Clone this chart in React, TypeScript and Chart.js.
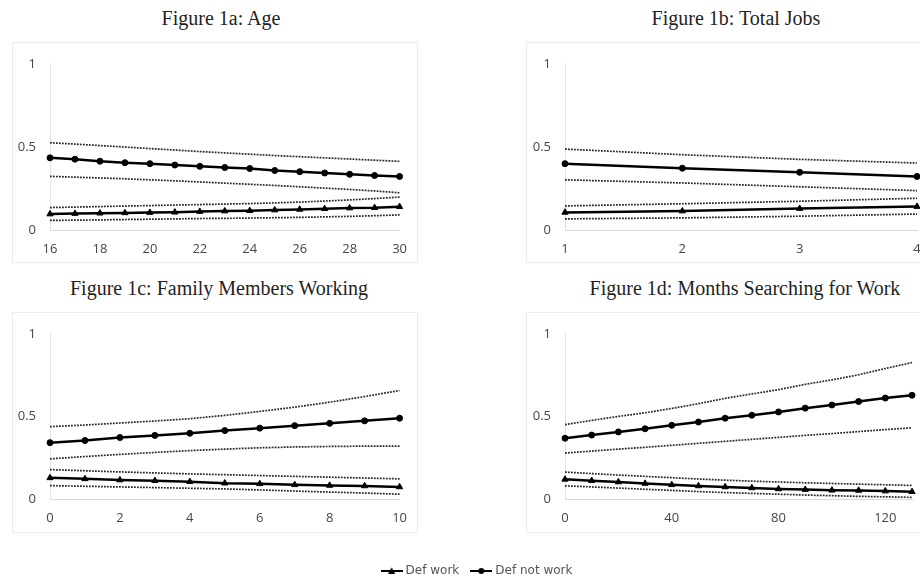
import React, { useEffect, useRef } from 'react';
import { Chart, registerables } from 'chart.js';
Chart.register(...registerables);

// ---------- data ----------
const ageLabels = ['16', '17', '18', '19', '20', '21', '22', '23', '24', '25', '26', '27', '28', '29', '30'];
const ageWork = [0.096, 0.099, 0.101, 0.103, 0.105, 0.107, 0.111, 0.114, 0.116, 0.120, 0.124, 0.128, 0.132, 0.134, 0.140];
const ageWorkHi = [0.135, 0.138, 0.141, 0.144, 0.147, 0.150, 0.153, 0.156, 0.159, 0.163, 0.168, 0.174, 0.181, 0.189, 0.198];
const ageWorkLo = [0.058, 0.059, 0.061, 0.063, 0.065, 0.067, 0.069, 0.070, 0.072, 0.074, 0.076, 0.079, 0.082, 0.086, 0.091];
const ageNot = [0.434, 0.426, 0.414, 0.405, 0.399, 0.391, 0.383, 0.376, 0.370, 0.358, 0.351, 0.343, 0.335, 0.328, 0.322];
const ageNotHi = [0.525, 0.517, 0.508, 0.499, 0.490, 0.481, 0.472, 0.464, 0.456, 0.448, 0.441, 0.434, 0.427, 0.420, 0.413];
const ageNotLo = [0.323, 0.318, 0.313, 0.308, 0.302, 0.296, 0.289, 0.282, 0.275, 0.268, 0.260, 0.252, 0.244, 0.235, 0.224];

const jobsLabels = ['1', '2', '3', '4'];
const jobsWork = [0.106, 0.114, 0.129, 0.141];
const jobsWorkHi = [0.145, 0.158, 0.173, 0.191];
const jobsWorkLo = [0.067, 0.073, 0.083, 0.096];
const jobsNot = [0.399, 0.372, 0.347, 0.322];
const jobsNotHi = [0.487, 0.453, 0.425, 0.403];
const jobsNotLo = [0.302, 0.283, 0.260, 0.237];

const famLabels = ['0', '1', '2', '3', '4', '5', '6', '7', '8', '9', '10'];
const famWork = [0.128, 0.122, 0.115, 0.111, 0.105, 0.096, 0.092, 0.086, 0.082, 0.079, 0.073];
const famWorkHi = [0.178, 0.171, 0.164, 0.158, 0.152, 0.147, 0.142, 0.137, 0.132, 0.127, 0.122];
const famWorkLo = [0.081, 0.077, 0.073, 0.069, 0.065, 0.061, 0.055, 0.048, 0.042, 0.036, 0.029];
const famNot = [0.341, 0.354, 0.372, 0.385, 0.398, 0.414, 0.429, 0.444, 0.458, 0.473, 0.489];
const famNotHi = [0.438, 0.448, 0.460, 0.472, 0.486, 0.506, 0.530, 0.556, 0.586, 0.620, 0.657];
const famNotLo = [0.243, 0.257, 0.270, 0.282, 0.293, 0.302, 0.310, 0.315, 0.318, 0.320, 0.320];

const monLabels = ['0', '10', '20', '30', '40', '50', '60', '70', '80', '90', '100', '110', '120', '130'];
const monWork = [0.119, 0.111, 0.103, 0.094, 0.086, 0.079, 0.073, 0.067, 0.061, 0.057, 0.053, 0.052, 0.048, 0.044];
const monWorkHi = [0.163, 0.154, 0.145, 0.137, 0.129, 0.121, 0.114, 0.108, 0.103, 0.098, 0.094, 0.090, 0.086, 0.082];
const monWorkLo = [0.080, 0.073, 0.066, 0.059, 0.052, 0.045, 0.039, 0.034, 0.029, 0.024, 0.020, 0.016, 0.013, 0.010];
const monNot = [0.368, 0.387, 0.406, 0.425, 0.446, 0.466, 0.489, 0.507, 0.527, 0.550, 0.569, 0.590, 0.611, 0.628];
const monNotHi = [0.450, 0.476, 0.500, 0.522, 0.548, 0.577, 0.609, 0.636, 0.662, 0.694, 0.721, 0.752, 0.790, 0.826];
const monNotLo = [0.278, 0.290, 0.302, 0.313, 0.325, 0.337, 0.349, 0.361, 0.373, 0.385, 0.396, 0.408, 0.420, 0.431];

const yTicks = [0, 0.5, 1];
const yTickLabels = ['0', '0.5', '1'];
const seriesNames = ['Def work', 'Def not work'];

// ---------- components ----------
const TICK_FONT = { family: 'Open Sans', size: 13 };
const TICK_COLOR = '#454545';

type PanelProps = {
  labels: string[];
  step: number;
  work: number[]; workHi: number[]; workLo: number[];
  not: number[]; notHi: number[]; notLo: number[];
  left: number; top: number; yW: number; padR: number; padT: number;
};

const W = 406;
const H = 221;

function ciSet(data: number[]) {
  return {
    data,
    borderColor: '#262626',
    borderWidth: 1.7,
    borderDash: [1.8, 1.2],
    pointRadius: 0,
    pointHoverRadius: 0,
    fill: false,
    tension: 0,
    clip: false as const,
  };
}

function Panel(p: PanelProps) {
  const ref = useRef<HTMLCanvasElement>(null);
  useEffect(() => {
    const chart = new Chart(ref.current!, {
      type: 'line',
      data: {
        labels: p.labels,
        datasets: [
          ciSet(p.notHi),
          ciSet(p.notLo),
          ciSet(p.workHi),
          ciSet(p.workLo),
          {
            label: seriesNames[0],
            data: p.work,
            borderColor: '#000000',
            backgroundColor: '#000000',
            borderWidth: 2.5,
            pointStyle: 'triangle',
            pointRadius: 3.6,
            pointBorderWidth: 1,
            tension: 0,
            clip: false as const,
          },
          {
            label: seriesNames[1],
            data: p.not,
            borderColor: '#000000',
            backgroundColor: '#000000',
            borderWidth: 2.5,
            pointStyle: 'circle',
            pointRadius: 3,
            pointBorderWidth: 1,
            tension: 0,
            clip: false as const,
          },
        ] as any,
      },
      options: {
        animation: false,
        responsive: false,
        maintainAspectRatio: false,
        events: [],
        layout: { padding: { left: 0, right: p.padR, top: p.padT, bottom: 0 } },
        plugins: { legend: { display: false }, tooltip: { enabled: false }, title: { display: false } },
        scales: {
          x: {
            type: 'category',
            offset: false,
            grid: { display: false, drawTicks: false },
            border: { display: true, color: '#d9d9d9', width: 1 },
            ticks: {
              autoSkip: false,
              maxRotation: 0,
              minRotation: 0,
              padding: 11,
              color: TICK_COLOR,
              font: TICK_FONT,
              callback: (_v: any, i: number) => (i % p.step === 0 ? p.labels[i] : ''),
            },
            afterFit: (s: any) => { s.height = H - p.padT - 173; },
          },
          y: {
            min: yTicks[0],
            max: yTicks[yTicks.length - 1],
            grid: { display: false, drawTicks: false },
            border: { display: true, color: '#e3e3e3', width: 1 },
            afterBuildTicks: (s: any) => { s.ticks = yTicks.map((v) => ({ value: v })); },
            ticks: {
              padding: 14,
              color: TICK_COLOR,
              font: TICK_FONT,
              callback: (v: any) => yTickLabels[yTicks.indexOf(Number(v))] ?? String(v),
            },
            afterFit: (s: any) => { s.width = p.yW; },
          },
        },
      } as any,
    });
    return () => chart.destroy();
  }, []);
  return (
    <>
      <canvas
        ref={ref}
        width={W}
        height={H}
        style={{ position: 'absolute', left: p.left, top: p.top, width: W, height: H }}
      />
      <div
        style={{
          position: 'absolute', left: p.left, top: p.top, width: W, height: H,
          border: '1px solid #ececec', boxSizing: 'border-box', pointerEvents: 'none',
        }}
      />
    </>
  );
}

function makeMarker(kind: 'triangle' | 'circle') {
  const c = document.createElement('canvas');
  c.width = 22;
  c.height = 10;
  const ctx = c.getContext('2d')!;
  ctx.strokeStyle = '#000';
  ctx.lineWidth = 2;
  ctx.beginPath();
  ctx.moveTo(0, 5);
  ctx.lineTo(22, 5);
  ctx.stroke();
  ctx.fillStyle = '#000';
  ctx.beginPath();
  if (kind === 'triangle') {
    ctx.moveTo(11, 1.2);
    ctx.lineTo(14.6, 8);
    ctx.lineTo(7.4, 8);
    ctx.closePath();
  } else {
    ctx.arc(11, 5, 3, 0, Math.PI * 2);
  }
  ctx.fill();
  return c;
}

const LEG_H = 80;

function Legend() {
  const ref = useRef<HTMLCanvasElement>(null);
  useEffect(() => {
    const markers = [makeMarker('triangle'), makeMarker('circle')];
    const chart = new Chart(ref.current!, {
      type: 'line',
      data: {
        labels: [],
        datasets: seriesNames.map((n) => ({ label: n, data: [] as number[], borderColor: '#000' })),
      },
      options: {
        animation: false,
        responsive: false,
        maintainAspectRatio: false,
        events: [],
        layout: { padding: { left: 36, right: 0, top: 0, bottom: 0 } },
        scales: { x: { display: false }, y: { display: false } },
        plugins: {
          tooltip: { enabled: false },
          legend: {
            display: true,
            position: 'top',
            maxHeight: 60,
            labels: {
              usePointStyle: true,
              pointStyleWidth: 16,
              padding: 14,
              color: '#555555',
              font: { family: 'DejaVu Sans', size: 12 },
              generateLabels: (ch: any) =>
                ch.data.datasets.map((d: any, i: number) => ({
                  text: d.label,
                  pointStyle: markers[i],
                  fillStyle: '#000',
                  strokeStyle: '#000',
                  lineWidth: 0,
                  hidden: false,
                  datasetIndex: i,
                  fontColor: '#555555',
                })),
            },
          },
        },
      } as any,
    });
    return () => chart.destroy();
  }, []);
  return (
    <canvas
      ref={ref}
      width={920}
      height={LEG_H}
      style={{ position: 'absolute', left: 0, top: 551, width: 920, height: LEG_H }}
    />
  );
}

function Title({ text, cx, top }: { text: string; cx: number; top: number }) {
  return (
    <div
      style={{
        position: 'absolute', left: cx - 250, top, width: 500, textAlign: 'center',
        fontFamily: '"Liberation Serif", "Times New Roman", serif', fontSize: 20,
        lineHeight: '24px', color: '#1f1f1f', whiteSpace: 'nowrap',
      }}
    >
      {text}
    </div>
  );
}

export default function App() {
  return (
    <div
      style={{
        position: 'absolute', left: 0, top: 0, width: 920, height: 583,
        overflow: 'hidden', background: '#ffffff',
      }}
    >
      <Title text="Figure 1a: Age" cx={221} top={6} />
      <Title text="Figure 1b: Total Jobs" cx={736} top={6} />
      <Title text="Figure 1c: Family Members Working" cx={219} top={276} />
      <Title text="Figure 1d: Months Searching for Work" cx={745} top={276} />
      <Panel labels={ageLabels} step={2} work={ageWork} workHi={ageWorkHi} workLo={ageWorkLo}
        not={ageNot} notHi={ageNotHi} notLo={ageNotLo} left={12} top={42} yW={38} padR={17} padT={15} />
      <Panel labels={jobsLabels} step={1} work={jobsWork} workHi={jobsWorkHi} workLo={jobsWorkLo}
        not={jobsNot} notHi={jobsNotHi} notLo={jobsNotLo} left={526} top={42} yW={39} padR={15} padT={15} />
      <Panel labels={famLabels} step={2} work={famWork} workHi={famWorkHi} workLo={famWorkLo}
        not={famNot} notHi={famNotHi} notLo={famNotLo} left={12} top={312} yW={38} padR={17} padT={14} />
      <Panel labels={monLabels} step={4} work={monWork} workHi={monWorkHi} workLo={monWorkLo}
        not={monNot} notHi={monNotHi} notLo={monNotLo} left={526} top={312} yW={39} padR={20} padT={14} />
      <Legend />
    </div>
  );
}
